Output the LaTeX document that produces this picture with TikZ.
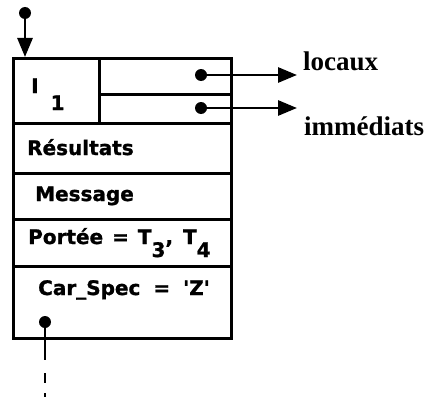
\documentclass[tikz,border=0pt]{standalone}
\usepackage{fontspec}
\newfontfamily\cellfont{DejaVu Sans}[BoldFeatures={FakeBold=1.2}]
\newfontfamily\tagfont{Liberation Serif}
\usetikzlibrary{arrows.meta, positioning, calc}

\begin{document}
\begin{tikzpicture}[
  x=1pt, y=-1pt,
  >={Triangle[length=19pt, width=15pt]},
  cell/.style={
    draw, line width=3.2pt, inner sep=0pt, anchor=north west
  },
  celltxt/.style={
    font=\cellfont\bfseries\fontsize{20}{22}\selectfont,
    anchor=base west, inner sep=0pt
  },
  tag/.style={
    font=\tagfont\bfseries\fontsize{27}{29}\selectfont,
    anchor=base west, inner sep=0pt
  },
  dot/.style={circle, fill, inner sep=0pt, minimum size=12pt},
  arr/.style={->, line width=2.8pt},
]

% Page
\useasboundingbox (0,0) rectangle (430,396);

% =============================================
% Block: header cells
% =============================================
\node[cell, minimum width=86pt, minimum height=65pt] (id) at (12,57) {};
\node[cell, minimum width=132pt, minimum height=36pt] (loccell) at (98,57) {};
\node[cell, minimum width=132pt, minimum height=29pt] (immcell) at (98,93) {};
\node[celltxt] (idtxt) at (31,93) {I\hspace{12pt}\raisebox{-17pt}{1}};

% =============================================
% Block: rows
% =============================================
\node[cell, minimum width=218pt, minimum height=50pt] (res) at (12,122) {};
\node[celltxt] (restxt) at (27,155) {Résultats};

\node[cell, minimum width=218pt, minimum height=46pt] (msg) at (12,172) {};
\node[celltxt] (msgtxt) at (35,201) {Message};

\node[cell, minimum width=218pt, minimum height=47pt] (port) at (12,218) {};
\node[celltxt] (porttxt) at (28,244)
  {Portée\hspace{9pt}=\hspace{9pt}T\raisebox{-13pt}{3},\hspace{10pt}T\raisebox{-13pt}{4}};

\node[cell, minimum width=218pt, minimum height=72pt] (car) at (12,265) {};
\node[celltxt] (cartxt) at (38,295)
  {Car\_Spec\hspace{13pt}=\hspace{13pt}\textquotesingle Z\textquotesingle};

% =============================================
% Pointers
% =============================================

% Entry
\node[dot] (entry) at (25,13) {};
\draw[arr] (entry.center) -- (entry |- id.north);

% Locaux
\node[dot] (locdot) at (201,75) {};
\coordinate (locend) at (297,75);
\draw[arr] (locdot.center) -- (locend);
\node[tag] (loc) at (303,70) {locaux};

% Immediats
\node[dot] (immdot) at (201,108) {};
\coordinate (immend) at (297,108);
\draw[arr] (immdot.center) -- (immend);
\node[tag] (imm) at (304,135) {immédiats};

% Tail
\node[dot] (tail) at (45,322) {};
\coordinate (tailmid) at (45,360);
\coordinate (tailend) at (45,400);
\draw[line width=2.4pt] (tail.center) -- (tailmid);
\draw[line width=2.4pt, dash pattern=on 0pt off 13pt on 10pt off 10pt on 10pt]
  (tailmid) -- (tailend);

\end{tikzpicture}
\end{document}
